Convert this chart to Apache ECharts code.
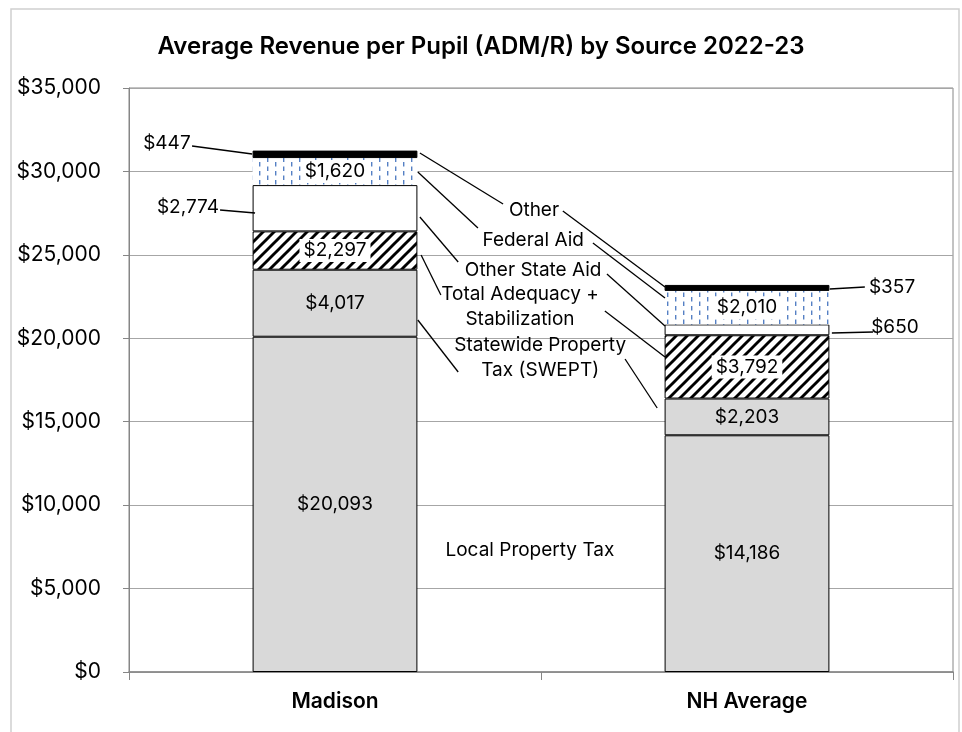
<!DOCTYPE html>
<html>
<head>
<meta charset="utf-8">
<script src="https://cdn.jsdelivr.net/npm/echarts@6/dist/echarts.min.js"></script>
<style>
  html, body { margin: 0; padding: 0; background: #fff; }
  #main { width: 962px; height: 732px; }
</style>
</head>
<body>
<div id="main"></div>
<script>
// data
var categories = ['Madison', 'NH Average'];
var localTax = [20093, 14186];
var swept = [4017, 2203];
var adequacy = [2297, 3792];
var otherState = [2774, 650];
var federal = [1620, 2010];
var other = [447, 357];
var yTicks = [0, 5000, 10000, 15000, 20000, 25000, 30000, 35000];

// series name labels between the bars, and their leader lines (x: 0 = Madison, 1 = NH Average)
var nameLabels = ['Other', 'Federal Aid', 'Other State Aid', 'Total Adequacy +\nStabilization', 'Statewide Property\nTax (SWEPT)', 'Local Property Tax'];
var nameLabelPos = [[0.483, 27690], [0.481, 25890], [0.481, 24090], [0.449, 21880], [0.498, 18820], [0.473, 7310]];
var leaderLines = [
  [[0.206, 31105], [0.408, 28050]], [[0.553, 27630], [0.801, 23075]],
  [[0.201, 29966], [0.347, 26610]], [[0.626, 25711], [0.801, 22415]],
  [[0.206, 27269], [0.299, 24572]], [[0.660, 23853], [0.801, 20736]],
  [[0.209, 24992], [0.257, 22594]], [[0.655, 21636], [0.801, 18879]],
  [[0.201, 21096], [0.299, 17980]], [[0.704, 18759], [0.782, 15822]],
  // value label leaders
  [[-0.347, 31524], [-0.201, 31045]],
  [[-0.279, 27688], [-0.194, 27509]],
  [[1.201, 22954], [1.286, 23074]],
  [[1.206, 20317], [1.306, 20377]]
];
// outside value labels: [x, y, value]
var outsideLabels = [[-0.408, 31704, other[0]], [-0.357, 27868, otherState[0]], [1.352, 23074, other[1]], [1.359, 20677, otherState[1]]];

function money(v) { return '$' + v.toLocaleString('en-US'); }

// fill patterns
function hatch() {
  var P = 11, c = document.createElement('canvas');
  c.width = P; c.height = P;
  var ctx = c.getContext('2d');
  ctx.fillStyle = '#fff'; ctx.fillRect(0, 0, P, P);
  ctx.strokeStyle = '#000'; ctx.lineWidth = 2.9;
  [0, P, 2 * P].forEach(function (k) {
    ctx.beginPath(); ctx.moveTo(k + 2, -2); ctx.lineTo(k - P - 2, P + 2); ctx.stroke();
  });
  return { image: c, repeat: 'repeat' };
}
function dashes() {
  var c = document.createElement('canvas');
  c.width = 16; c.height = 9;
  var ctx = c.getContext('2d');
  ctx.fillStyle = '#fff'; ctx.fillRect(0, 0, 16, 9);
  ctx.fillStyle = '#5580c4';
  ctx.fillRect(3, 0, 1.4, 4.5);
  ctx.fillRect(11, 4.5, 1.4, 4.5);
  return { image: c, repeat: 'repeat' };
}

var font = 'Inter, "Noto Sans", sans-serif';
var inLabel = { show: true, position: 'inside', color: '#000', fontSize: 19, fontFamily: font, formatter: function (p) { return money(p.value); } };
var boxLabel = Object.assign({}, inLabel, { backgroundColor: '#fff', padding: [2, 4] });

function bar(name, data, color, label, border) {
  return {
    name: name, type: 'bar', stack: 'rev', data: data, barWidth: '40%',
    itemStyle: { color: color, borderColor: '#000', borderWidth: border },
    label: label, z: 2
  };
}

var series = [
  bar('Local Property Tax', localTax, '#d9d9d9', inLabel, 1),
  bar('Statewide Property Tax (SWEPT)', swept, '#d9d9d9', inLabel, 1),
  bar('Total Adequacy + Stabilization', adequacy, hatch(), boxLabel, 1),
  bar('Other State Aid', otherState, '#fff', { show: false }, 1),
  bar('Federal Aid', federal, dashes(), boxLabel, 0),
  bar('Other', other, '#000', { show: false }, 1)
];

leaderLines.forEach(function (l) {
  series.push({
    type: 'line', xAxisIndex: 1, data: l, symbol: 'none', silent: true, z: 3,
    lineStyle: { color: '#000', width: 1.3 }
  });
});

var textLabel = { show: true, position: 'inside', color: '#000', fontSize: 19, lineHeight: 25, fontFamily: font, align: 'center', formatter: '{b}' };
series.push({
  type: 'scatter', xAxisIndex: 1, symbolSize: 0, silent: true, z: 4,
  itemStyle: { opacity: 1 },
  data: nameLabelPos.map(function (p, i) { return { value: p, name: nameLabels[i] }; }),
  label: textLabel
});
series.push({
  type: 'scatter', xAxisIndex: 1, symbolSize: 0, silent: true, z: 4,
  itemStyle: { opacity: 1 },
  data: outsideLabels.map(function (p) { return { value: [p[0], p[1]], name: money(p[2]) }; }),
  label: textLabel
});

var myChart = echarts.init(document.getElementById('main'));
myChart.setOption({
  animation: false,
  title: {
    text: 'Average Revenue per Pupil (ADM/R) by Source 2022-23',
    left: 'center', top: 30,
    textStyle: { fontSize: 24, fontWeight: 600, color: '#000', fontFamily: font }
  },
  graphic: [{
    type: 'rect', shape: { x: 11, y: 9, width: 948, height: 730 },
    style: { fill: 'none', stroke: '#d0d0d0', lineWidth: 1.5 }, silent: true
  }],
  grid: { left: 129, right: 9, top: 88, bottom: 60, show: true, borderColor: '#868686', borderWidth: 1 },
  xAxis: [{
    type: 'category', data: categories,
    axisLine: { lineStyle: { color: '#868686', width: 1.5 } },
    axisTick: { show: true, length: 8, lineStyle: { color: '#868686' } },
    axisLabel: { color: '#000', fontSize: 21, fontWeight: 600, fontFamily: font, margin: 19 }
  }, {
    type: 'value', min: -0.5, max: 1.5, show: false
  }],
  yAxis: {
    type: 'value', min: yTicks[0], max: yTicks[yTicks.length - 1], interval: 5000,
    axisLine: { show: true, onZero: false, lineStyle: { color: '#868686' } },
    axisTick: { show: true, length: 6, lineStyle: { color: '#868686' } },
    splitLine: { lineStyle: { color: '#a6a6a6' } },
    axisLabel: { color: '#000', fontSize: 21, fontFamily: font, margin: 28, formatter: money }
  },
  series: series
});
</script>
</body>
</html>
